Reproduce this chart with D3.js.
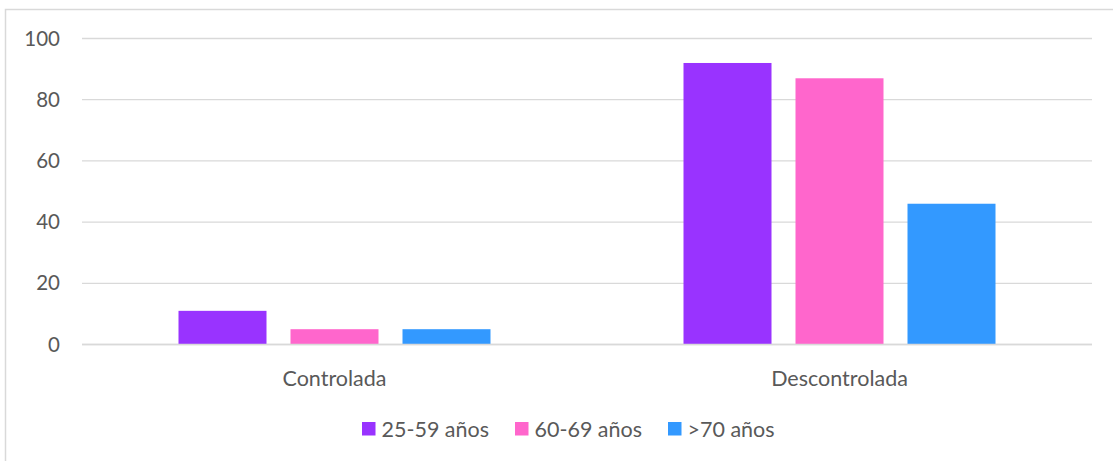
<!DOCTYPE html>
<html><head><meta charset="utf-8">
<script src="https://cdn.jsdelivr.net/npm/d3@7"></script>
<style>body{margin:0;background:#fff}svg{display:block}text{font-family:Lato,"Open Sans",sans-serif;fill:#595959}</style>
</head><body>
<svg id="c" width="1113" height="461"></svg>
<script>
const categories = ["Controlada", "Descontrolada"];
const seriesNames = ["25-59 años", "60-69 años", ">70 años"];
const seriesColors = ["#9933FF", "#FF66CC", "#3399FF"];
const values25_59 = [11, 92];
const values60_69 = [5, 87];
const values70 = [5, 46];
const yTicks = [0, 20, 40, 60, 80, 100];
const seriesValues = [values25_59, values60_69, values70];

(function () {
const svg = d3.select("#c");
svg.append("rect").attr("x", 5.5).attr("y", 9.5).attr("width", 1120).attr("height", 460)
  .attr("fill", "none").attr("stroke", "#d9d9d9").attr("stroke-width", 1.5);

const pLeft = 82, pRight = 1092, pTop = 38.5, pBottom = 344.5;
const y = d3.scaleLinear().domain([0, 100]).range([pBottom, pTop]);
const x0 = d3.scaleBand().domain(categories).range([pLeft, pRight]).paddingInner(0).paddingOuter(0);
const inner = 312;
const x1 = d3.scaleBand().domain(seriesNames).range([0, inner]).paddingInner(24/112);
const off = (x0.bandwidth() - inner) / 2;

const grid = svg.append("g");
yTicks.forEach(t => {
  grid.append("line").attr("x1", pLeft).attr("x2", pRight).attr("y1", y(t)).attr("y2", y(t))
    .attr("stroke", "#d9d9d9").attr("stroke-width", 1.3);
  svg.append("text").attr("x", 60).attr("y", y(t)).attr("dy", "0.35em").attr("text-anchor", "end")
    .attr("font-size", 20.5).text(t);
});

categories.forEach((c, ci) => {
  seriesNames.forEach((s, si) => {
    const v = seriesValues[si][ci];
    svg.append("rect").attr("x", x0(c) + off + x1(s)).attr("width", x1.bandwidth())
      .attr("y", y(v)).attr("height", y(0) - y(v)).attr("fill", seriesColors[si]);
  });
  svg.append("text").attr("x", x0(c) + x0.bandwidth()/2).attr("y", 385.5).attr("text-anchor", "middle")
    .attr("font-size", 21.5).text(c);
});
svg.append("line").attr("x1", pLeft).attr("x2", pRight).attr("y1", y(0)).attr("y2", y(0))
  .attr("stroke", "#d9d9d9").attr("stroke-width", 1.3);

const legX = [362, 515, 668];
seriesNames.forEach((s, i) => {
  svg.append("rect").attr("x", legX[i]).attr("y", 422).attr("width", 13.5).attr("height", 13.5).attr("fill", seriesColors[i]);
  svg.append("text").attr("x", legX[i] + 19.5).attr("y", 429).attr("dy", "0.35em").attr("font-size", 21.5).text(s);
});
})();
</script>
</body></html>
